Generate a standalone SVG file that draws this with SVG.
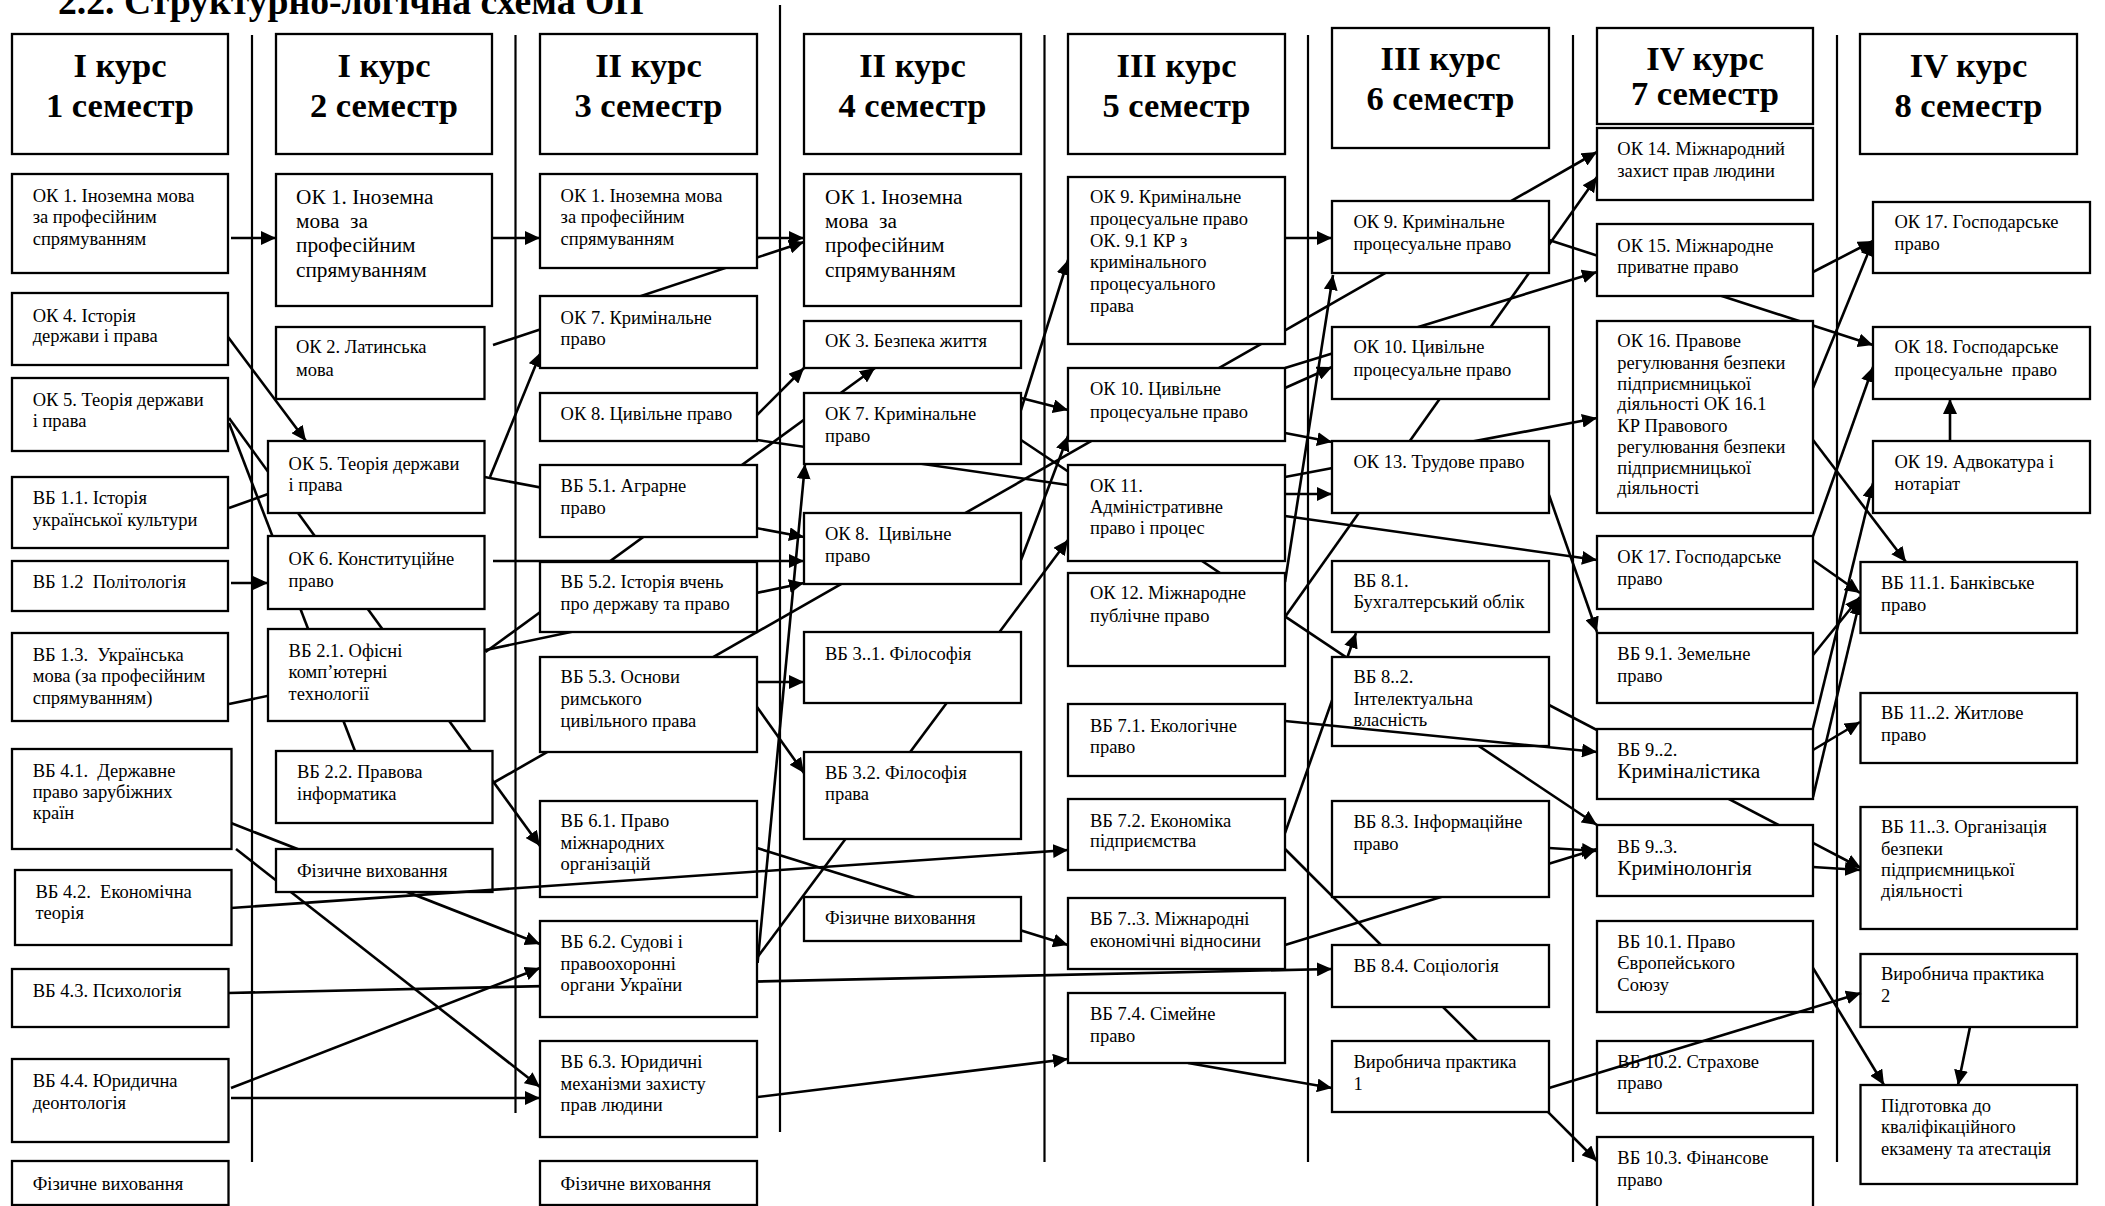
<svg xmlns="http://www.w3.org/2000/svg" width="2105" height="1206" viewBox="0 0 2105 1206">
<defs>
<marker id="ah" markerUnits="userSpaceOnUse" markerWidth="16" markerHeight="14" refX="15" refY="7" orient="auto">
<path d="M0,0 L15,7 L0,14 z" fill="#000"/>
</marker>
<style>
.box{fill:#fff;stroke:#000;stroke-width:2.3}
.t{font-family:"Liberation Serif","Times New Roman",serif;font-size:18.5px;fill:#000}
.tl{font-family:"Liberation Serif","Times New Roman",serif;font-size:21.3px;fill:#000}
.h{font-family:"Liberation Serif","Times New Roman",serif;font-size:34.5px;font-weight:bold;text-anchor:middle;fill:#000}
.ttl{font-family:"Liberation Serif","Times New Roman",serif;font-size:37.7px;font-weight:bold;fill:#000}
.c{stroke:#000;stroke-width:2.6;fill:none}
.a{marker-end:url(#ah)}
.sep{stroke:#000;stroke-width:2.2}
</style>
</defs>
<rect width="2105" height="1206" fill="#fff"/>
<text class="ttl" x="58" y="14">2.2. Структурно-логічна схема ОП</text>
<g id="separators">
<line class="sep" x1="252" y1="35" x2="252" y2="1162"/>
<line class="sep" x1="515.5" y1="35" x2="515.5" y2="1113"/>
<line class="sep" x1="780" y1="5" x2="780" y2="1132"/>
<line class="sep" x1="1044.5" y1="35" x2="1044.5" y2="1162"/>
<line class="sep" x1="1308" y1="35" x2="1308" y2="1162"/>
<line class="sep" x1="1573" y1="35" x2="1573" y2="1162"/>
<line class="sep" x1="1837" y1="35" x2="1837" y2="1162"/>
</g>
<g id="connectors">
<line class="c a" x1="231" y1="238" x2="276" y2="238"/>
<line class="c a" x1="493" y1="238" x2="540" y2="238"/>
<line class="c a" x1="757" y1="238" x2="804" y2="238"/>
<line class="c a" x1="228" y1="337" x2="306" y2="441"/>
<line class="c a" x1="229" y1="418" x2="540" y2="846"/>
<line class="c" x1="229" y1="423" x2="355" y2="751"/>
<line class="c" x1="229" y1="508" x2="268" y2="494"/>
<line class="c a" x1="231" y1="583" x2="268" y2="583"/>
<line class="c a" x1="229" y1="704" x2="804" y2="583"/>
<line class="c a" x1="231" y1="823" x2="540" y2="944"/>
<line class="c a" x1="236" y1="849" x2="540" y2="1087"/>
<line class="c a" x1="228" y1="993" x2="1332" y2="969"/>
<line class="c a" x1="231" y1="1088" x2="540" y2="968"/>
<line class="c a" x1="231" y1="1098" x2="540" y2="1098"/>
<line class="c a" x1="493" y1="345" x2="804" y2="242"/>
<line class="c a" x1="490" y1="477" x2="541" y2="352"/>
<line class="c a" x1="484.5" y1="477" x2="804" y2="537"/>
<line class="c a" x1="493" y1="561" x2="804" y2="561"/>
<line class="c a" x1="485.5" y1="652" x2="875" y2="368"/>
<line class="c a" x1="493" y1="783" x2="1597" y2="152"/>
<line class="c a" x1="757" y1="415" x2="804" y2="368"/>
<line class="c" x1="757" y1="440" x2="1068" y2="485"/>
<line class="c a" x1="757.6" y1="963" x2="805" y2="464"/>
<line class="c a" x1="757.6" y1="957" x2="1068" y2="540"/>
<line class="c a" x1="757" y1="682" x2="804" y2="682"/>
<line class="c a" x1="757" y1="707" x2="804" y2="773"/>
<line class="c a" x1="757" y1="848" x2="1068" y2="945"/>
<line class="c a" x1="757.6" y1="1097" x2="1068" y2="1059"/>
<line class="c a" x1="1021" y1="410" x2="1068" y2="260"/>
<line class="c a" x1="1021" y1="398" x2="1068" y2="410"/>
<line class="c a" x1="1021" y1="560" x2="1068" y2="436"/>
<line class="c a" x1="1021" y1="440" x2="1597" y2="825"/>
<line class="c a" x1="1285" y1="238" x2="1332" y2="238"/>
<line class="c a" x1="1285" y1="368" x2="1597" y2="272"/>
<line class="c a" x1="1285" y1="388" x2="1332" y2="367"/>
<line class="c a" x1="1285" y1="582" x2="1333" y2="275"/>
<line class="c a" x1="1285" y1="433" x2="1332" y2="442"/>
<line class="c a" x1="1285" y1="477" x2="1597" y2="418"/>
<line class="c a" x1="1285" y1="494" x2="1332" y2="494"/>
<line class="c a" x1="1285" y1="516" x2="1597" y2="560"/>
<line class="c a" x1="1285" y1="617" x2="1597" y2="177"/>
<line class="c a" x1="1285" y1="833" x2="1356" y2="633"/>
<line class="c a" x1="1285" y1="849" x2="1597" y2="1161"/>
<line class="c a" x1="1285" y1="945" x2="1597" y2="849"/>
<line class="c a" x1="1188" y1="1063" x2="1332" y2="1088"/>
<line class="c a" x1="1549" y1="240" x2="1873" y2="345"/>
<line class="c a" x1="1549" y1="495" x2="1597" y2="632"/>
<line class="c a" x1="1549" y1="848" x2="1597" y2="851"/>
<line class="c a" x1="1549" y1="705" x2="1861" y2="868"/>
<line class="c a" x1="1813" y1="272" x2="1873" y2="241"/>
<line class="c a" x1="1813" y1="388" x2="1873" y2="241"/>
<line class="c a" x1="1813" y1="536" x2="1873" y2="367"/>
<line class="c a" x1="1813" y1="440" x2="1906" y2="562"/>
<line class="c a" x1="1813" y1="560" x2="1860" y2="593"/>
<line class="c a" x1="1813" y1="655" x2="1860" y2="597"/>
<line class="c a" x1="1813" y1="750" x2="1860" y2="722"/>
<line class="c a" x1="1813" y1="728" x2="1873" y2="483"/>
<line class="c a" x1="1813" y1="797" x2="1860" y2="600"/>
<line class="c a" x1="1813" y1="867" x2="1860" y2="870"/>
<line class="c a" x1="1813" y1="968" x2="1884" y2="1085"/>
<line class="c a" x1="1970" y1="1027" x2="1958" y2="1085"/>
<line class="c a" x1="1950" y1="441" x2="1950" y2="399"/>
</g>
<g id="headers">
<g id="h1"><rect class="box" x="12" y="34" width="216" height="120"/><text class="h" x="120" y="77">І курс</text><text class="h" x="120" y="117">1 семестр</text></g>
<g id="h2"><rect class="box" x="276" y="34" width="216" height="120"/><text class="h" x="384" y="77">І курс</text><text class="h" x="384" y="117">2 семестр</text></g>
<g id="h3"><rect class="box" x="540" y="34" width="217" height="120"/><text class="h" x="648.5" y="77">ІІ курс</text><text class="h" x="648.5" y="117">3 семестр</text></g>
<g id="h4"><rect class="box" x="804" y="34" width="217" height="120"/><text class="h" x="912.5" y="77">ІІ курс</text><text class="h" x="912.5" y="117">4 семестр</text></g>
<g id="h5"><rect class="box" x="1068" y="34" width="217" height="120"/><text class="h" x="1176.5" y="77">ІІІ курс</text><text class="h" x="1176.5" y="117">5 семестр</text></g>
<g id="h6"><rect class="box" x="1332" y="28" width="217" height="120"/><text class="h" x="1440.5" y="70">ІІІ курс</text><text class="h" x="1440.5" y="110">6 семестр</text></g>
<g id="h7"><rect class="box" x="1597" y="28" width="216" height="96"/><text class="h" x="1705" y="70">IV курс</text><text class="h" x="1705" y="105">7 семестр</text></g>
<g id="h8"><rect class="box" x="1860" y="34" width="217" height="120"/><text class="h" x="1968.5" y="77">IV курс</text><text class="h" x="1968.5" y="117">8 семестр</text></g>
</g>
<g id="nodes">
<g id="ok1-s1"><rect class="box" x="12" y="174" width="216" height="99"/><text class="t"><tspan x="32.7" y="201.7">ОК 1. Іноземна мова</tspan><tspan x="32.7" y="223">за професійним</tspan><tspan x="32.7" y="245">спрямуванням</tspan></text></g>
<g id="ok4-s1"><rect class="box" x="12" y="293" width="216" height="72"/><text class="t"><tspan x="32.7" y="321.7">ОК 4. Історія</tspan><tspan x="32.7" y="342">держави і права</tspan></text></g>
<g id="ok5-s1"><rect class="box" x="12" y="378" width="216" height="73"/><text class="t"><tspan x="32.7" y="405.5">ОК 5. Теорія держави</tspan><tspan x="32.7" y="427">і права</tspan></text></g>
<g id="vb11-s1"><rect class="box" x="12" y="477" width="216" height="71"/><text class="t"><tspan x="32.7" y="504">ВБ 1.1. Історія</tspan><tspan x="32.7" y="526">української культури</tspan></text></g>
<g id="vb12-s1"><rect class="box" x="12" y="561" width="216" height="50"/><text class="t" x="32.7" y="588" xml:space="preserve">ВБ 1.2  Політологія</text></g>
<g id="vb13-s1"><rect class="box" x="12" y="633" width="216" height="88"/><text class="t" xml:space="preserve"><tspan x="32.7" y="661">ВБ 1.3.  Українська</tspan><tspan x="32.7" y="682">мова (за професійним</tspan><tspan x="32.7" y="703.5">спрямуванням)</tspan></text></g>
<g id="vb41-s1"><rect class="box" x="12" y="749" width="219.5" height="100"/><text class="t" xml:space="preserve"><tspan x="32.7" y="777">ВБ 4.1.  Державне</tspan><tspan x="32.7" y="798">право зарубіжних</tspan><tspan x="32.7" y="818.5">країн</tspan></text></g>
<g id="vb42-s1"><rect class="box" x="15" y="870" width="216.5" height="75"/><text class="t" xml:space="preserve"><tspan x="35.5" y="897.5">ВБ 4.2.  Економічна</tspan><tspan x="35.5" y="918.5">теорія</tspan></text></g>
<g id="vb43-s1"><rect class="box" x="12" y="969" width="216.5" height="58"/><text class="t" x="32.7" y="997">ВБ 4.3. Психологія</text></g>
<g id="vb44-s1"><rect class="box" x="12" y="1059" width="216.5" height="83"/><text class="t"><tspan x="32.7" y="1087">ВБ 4.4. Юридична</tspan><tspan x="32.7" y="1108.5">деонтологія</tspan></text></g>
<g id="pe-s1"><rect class="box" x="12" y="1161" width="216.5" height="44"/><text class="t" x="32.7" y="1190">Фізичне виховання</text></g>

<g id="ok1-s2"><rect class="box" x="276" y="174" width="216" height="132"/><text class="tl" xml:space="preserve"><tspan x="296" y="204">ОК 1. Іноземна</tspan><tspan x="296" y="228">мова  за</tspan><tspan x="296" y="252">професійним</tspan><tspan x="296" y="276.7">спрямуванням</tspan></text></g>
<g id="ok2-s2"><rect class="box" x="276" y="327" width="208.5" height="72"/><text class="t"><tspan x="296" y="353">ОК 2. Латинська</tspan><tspan x="296" y="376">мова</tspan></text></g>
<g id="ok5-s2"><rect class="box" x="268" y="441" width="216.5" height="72"/><text class="t"><tspan x="288.6" y="470">ОК 5. Теорія держави</tspan><tspan x="288.6" y="491">і права</tspan></text></g>
<g id="ok6-s2"><rect class="box" x="268" y="536" width="216.5" height="73"/><text class="t"><tspan x="288.6" y="565">ОК 6. Конституційне</tspan><tspan x="288.6" y="587">право</tspan></text></g>
<g id="vb21-s2"><rect class="box" x="268" y="629" width="216.5" height="92"/><text class="t"><tspan x="288.6" y="657">ВБ 2.1. Офісні</tspan><tspan x="288.6" y="678">комп’ютерні</tspan><tspan x="288.6" y="700">технології</tspan></text></g>
<g id="vb22-s2"><rect class="box" x="276" y="751" width="216.5" height="72"/><text class="t"><tspan x="297" y="778">ВБ 2.2. Правова</tspan><tspan x="297" y="800">інформатика</tspan></text></g>
<g id="pe-s2"><rect class="box" x="276" y="849" width="216.5" height="43"/><text class="t" x="297" y="877">Фізичне виховання</text></g>

<g id="ok1-s3"><rect class="box" x="540" y="174" width="217" height="94"/><text class="t"><tspan x="560.6" y="201.7">ОК 1. Іноземна мова</tspan><tspan x="560.6" y="223">за професійним</tspan><tspan x="560.6" y="245">спрямуванням</tspan></text></g>
<g id="ok7-s3"><rect class="box" x="540" y="296" width="217" height="72"/><text class="t"><tspan x="560.6" y="323.5">ОК 7. Кримінальне</tspan><tspan x="560.6" y="345">право</tspan></text></g>
<g id="ok8-s3"><rect class="box" x="540" y="393" width="217" height="48"/><text class="t" x="560.6" y="420">ОК 8. Цивільне право</text></g>
<g id="vb51-s3"><rect class="box" x="540" y="465" width="217" height="72"/><text class="t"><tspan x="560.6" y="491.7">ВБ 5.1. Аграрне</tspan><tspan x="560.6" y="514">право</tspan></text></g>
<g id="vb52-s3"><rect class="box" x="540" y="562" width="217" height="70"/><text class="t"><tspan x="560.6" y="588">ВБ 5.2. Історія вчень</tspan><tspan x="560.6" y="610">про державу та право</tspan></text></g>
<g id="vb53-s3"><rect class="box" x="540" y="657" width="217" height="95"/><text class="t"><tspan x="560.6" y="683">ВБ 5.3. Основи</tspan><tspan x="560.6" y="705">римського</tspan><tspan x="560.6" y="727">цивільного права</tspan></text></g>
<g id="vb61-s3"><rect class="box" x="540" y="801" width="217" height="96"/><text class="t"><tspan x="560.6" y="827">ВБ 6.1. Право</tspan><tspan x="560.6" y="849">міжнародних</tspan><tspan x="560.6" y="870">організацій</tspan></text></g>
<g id="vb62-s3"><rect class="box" x="540" y="921" width="217" height="96"/><text class="t"><tspan x="560.6" y="948">ВБ 6.2. Судові і</tspan><tspan x="560.6" y="970">правоохоронні</tspan><tspan x="560.6" y="991">органи України</tspan></text></g>
<g id="vb63-s3"><rect class="box" x="540" y="1041" width="217" height="96"/><text class="t"><tspan x="560.6" y="1068">ВБ 6.3. Юридичні</tspan><tspan x="560.6" y="1090">механізми захисту</tspan><tspan x="560.6" y="1111">прав людини</tspan></text></g>
<g id="pe-s3"><rect class="box" x="540" y="1161" width="217" height="44"/><text class="t" x="560.6" y="1190">Фізичне виховання</text></g>

<g id="ok1-s4"><rect class="box" x="804" y="174" width="217" height="132"/><text class="tl" xml:space="preserve"><tspan x="825" y="204">ОК 1. Іноземна</tspan><tspan x="825" y="228">мова  за</tspan><tspan x="825" y="252">професійним</tspan><tspan x="825" y="276.7">спрямуванням</tspan></text></g>
<g id="ok3-s4"><rect class="box" x="804" y="321" width="217" height="47"/><text class="t" x="825" y="347">ОК 3. Безпека життя</text></g>
<g id="ok7-s4"><rect class="box" x="804" y="393" width="217" height="71"/><text class="t"><tspan x="825" y="419.5">ОК 7. Кримінальне</tspan><tspan x="825" y="442">право</tspan></text></g>
<g id="ok8-s4"><rect class="box" x="804" y="513" width="217" height="71"/><text class="t" xml:space="preserve"><tspan x="825" y="539.5">ОК 8.  Цивільне</tspan><tspan x="825" y="562">право</tspan></text></g>
<g id="vb31-s4"><rect class="box" x="804" y="632" width="217" height="71"/><text class="t" x="825" y="660">ВБ 3..1. Філософія</text></g>
<g id="vb32-s4"><rect class="box" x="804" y="752" width="217" height="87"/><text class="t"><tspan x="825" y="778.5">ВБ 3.2. Філософія</tspan><tspan x="825" y="800">права</tspan></text></g>
<g id="pe-s4"><rect class="box" x="804" y="897" width="217" height="44"/><text class="t" x="825" y="924">Фізичне виховання</text></g>

<g id="ok9-s5"><rect class="box" x="1068" y="177" width="217" height="167"/><text class="t"><tspan x="1090" y="203.3">ОК 9. Кримінальне</tspan><tspan x="1090" y="225">процесуальне право</tspan><tspan x="1090" y="246.7">ОК. 9.1 КР з</tspan><tspan x="1090" y="268.3">кримінального</tspan><tspan x="1090" y="290">процесуального</tspan><tspan x="1090" y="311.7">права</tspan></text></g>
<g id="ok10-s5"><rect class="box" x="1068" y="368" width="217" height="73"/><text class="t"><tspan x="1090" y="395">ОК 10. Цивільне</tspan><tspan x="1090" y="418">процесуальне право</tspan></text></g>
<g id="ok11-s5"><rect class="box" x="1068" y="465" width="217" height="96"/><text class="t"><tspan x="1090" y="491.7">ОК 11.</tspan><tspan x="1090" y="513.3">Адміністративне</tspan><tspan x="1090" y="534.3">право і процес</tspan></text></g>
<g id="ok12-s5"><rect class="box" x="1068" y="573" width="217" height="93"/><text class="t"><tspan x="1090" y="599.3">ОК 12. Міжнародне</tspan><tspan x="1090" y="621.7">публічне право</tspan></text></g>
<g id="vb71-s5"><rect class="box" x="1068" y="704" width="217" height="72"/><text class="t"><tspan x="1090" y="731.7">ВБ 7.1. Екологічне</tspan><tspan x="1090" y="753.3">право</tspan></text></g>
<g id="vb72-s5"><rect class="box" x="1068" y="799" width="217" height="71"/><text class="t"><tspan x="1090" y="826.7">ВБ 7.2. Економіка</tspan><tspan x="1090" y="847.3">підприємства</tspan></text></g>
<g id="vb73-s5"><rect class="box" x="1068" y="898" width="217" height="71"/><text class="t"><tspan x="1090" y="925">ВБ 7..3. Міжнародні</tspan><tspan x="1090" y="946.7">економічні відносини</tspan></text></g>
<g id="vb74-s5"><rect class="box" x="1068" y="993" width="217" height="70"/><text class="t"><tspan x="1090" y="1020">ВБ 7.4. Сімейне</tspan><tspan x="1090" y="1041.7">право</tspan></text></g>

<g id="ok9-s6"><rect class="box" x="1332" y="201" width="217" height="72"/><text class="t"><tspan x="1353.4" y="228.3">ОК 9. Кримінальне</tspan><tspan x="1353.4" y="250">процесуальне право</tspan></text></g>
<g id="ok10-s6"><rect class="box" x="1332" y="327" width="217" height="72"/><text class="t"><tspan x="1353.4" y="353.3">ОК 10. Цивільне</tspan><tspan x="1353.4" y="376">процесуальне право</tspan></text></g>
<g id="ok13-s6"><rect class="box" x="1332" y="441" width="217" height="72"/><text class="t" x="1353.4" y="468.3">ОК 13. Трудове право</text></g>
<g id="vb81-s6"><rect class="box" x="1332" y="561" width="217" height="71"/><text class="t"><tspan x="1353.4" y="586.7">ВБ 8.1.</tspan><tspan x="1353.4" y="608.3">Бухгалтерський облік</tspan></text></g>
<g id="vb82-s6"><rect class="box" x="1332" y="657" width="217" height="89"/><text class="t"><tspan x="1353.4" y="683.3">ВБ 8..2.</tspan><tspan x="1353.4" y="705">Інтелектуальна</tspan><tspan x="1353.4" y="726">власність</tspan></text></g>
<g id="vb83-s6"><rect class="box" x="1332" y="801" width="217" height="96"/><text class="t"><tspan x="1353.4" y="828.3">ВБ 8.3. Інформаційне</tspan><tspan x="1353.4" y="850">право</tspan></text></g>
<g id="vb84-s6"><rect class="box" x="1332" y="945" width="217" height="62"/><text class="t" x="1353.4" y="971.7">ВБ 8.4. Соціологія</text></g>
<g id="vp1-s6"><rect class="box" x="1332" y="1041" width="217" height="71"/><text class="t"><tspan x="1353.4" y="1068.3">Виробнича практика</tspan><tspan x="1353.4" y="1090">1</tspan></text></g>

<g id="ok14-s7"><rect class="box" x="1597" y="128" width="216" height="72"/><text class="t"><tspan x="1617.3" y="155">ОК 14. Міжнародний</tspan><tspan x="1617.3" y="176.7">захист прав людини</tspan></text></g>
<g id="ok15-s7"><rect class="box" x="1597" y="224" width="216" height="72"/><text class="t"><tspan x="1617.3" y="251.7">ОК 15. Міжнародне</tspan><tspan x="1617.3" y="273.3">приватне право</tspan></text></g>
<g id="ok16-s7"><rect class="box" x="1597" y="321" width="216" height="192"/><text class="t"><tspan x="1617.3" y="346.7">ОК 16. Правове</tspan><tspan x="1617.3" y="368.5">регулювання безпеки</tspan><tspan x="1617.3" y="389.5">підприємницької</tspan><tspan x="1617.3" y="410">діяльності ОК 16.1</tspan><tspan x="1617.3" y="431.7">КР Правового</tspan><tspan x="1617.3" y="453.3">регулювання безпеки</tspan><tspan x="1617.3" y="474">підприємницької</tspan><tspan x="1617.3" y="494.3">діяльності</tspan></text></g>
<g id="ok17-s7"><rect class="box" x="1597" y="536" width="216" height="73"/><text class="t"><tspan x="1617.3" y="563.3">ОК 17. Господарське</tspan><tspan x="1617.3" y="585">право</tspan></text></g>
<g id="vb91-s7"><rect class="box" x="1597" y="633" width="216" height="70"/><text class="t"><tspan x="1617.3" y="660">ВБ 9.1. Земельне</tspan><tspan x="1617.3" y="681.7">право</tspan></text></g>
<g id="vb92-s7"><rect class="box" x="1597" y="729" width="216" height="70"/><text class="t" x="1617.3" y="756">ВБ 9..2.</text><text class="tl" x="1617.3" y="777.7">Криміналістика</text></g>
<g id="vb93-s7"><rect class="box" x="1597" y="825" width="216" height="71"/><text class="t" x="1617.3" y="853.3">ВБ 9..3.</text><text class="tl" x="1617.3" y="875">Кримінолонгія</text></g>
<g id="vb101-s7"><rect class="box" x="1597" y="921" width="216" height="91"/><text class="t"><tspan x="1617.3" y="948.3">ВБ 10.1. Право</tspan><tspan x="1617.3" y="969.3">Європейського</tspan><tspan x="1617.3" y="991">Союзу</tspan></text></g>
<g id="vb102-s7"><rect class="box" x="1597" y="1041" width="216" height="72"/><text class="t"><tspan x="1617.3" y="1068.3">ВБ 10.2. Страхове</tspan><tspan x="1617.3" y="1089.3">право</tspan></text></g>
<g id="vb103-s7"><rect class="box" x="1597" y="1137" width="216" height="72"/><text class="t"><tspan x="1617.3" y="1164">ВБ 10.3. Фінансове</tspan><tspan x="1617.3" y="1185.7">право</tspan></text></g>

<g id="ok17-s8"><rect class="box" x="1873" y="202" width="217" height="71"/><text class="t"><tspan x="1894.5" y="228.3">ОК 17. Господарське</tspan><tspan x="1894.5" y="250">право</tspan></text></g>
<g id="ok18-s8"><rect class="box" x="1873" y="327" width="217" height="72"/><text class="t" xml:space="preserve"><tspan x="1894.5" y="353.3">ОК 18. Господарське</tspan><tspan x="1894.5" y="376">процесуальне  право</tspan></text></g>
<g id="ok19-s8"><rect class="box" x="1873" y="441" width="217" height="72"/><text class="t"><tspan x="1894.5" y="468.3">ОК 19. Адвокатура і</tspan><tspan x="1894.5" y="490">нотаріат</tspan></text></g>
<g id="vb111-s8"><rect class="box" x="1860.5" y="562" width="216.5" height="71"/><text class="t"><tspan x="1881" y="589.3">ВБ 11.1. Банківське</tspan><tspan x="1881" y="610.7">право</tspan></text></g>
<g id="vb112-s8"><rect class="box" x="1860.5" y="693" width="216.5" height="70"/><text class="t"><tspan x="1881" y="719.3">ВБ 11..2. Житлове</tspan><tspan x="1881" y="740.7">право</tspan></text></g>
<g id="vb113-s8"><rect class="box" x="1860.5" y="807" width="216.5" height="122"/><text class="t"><tspan x="1881" y="833.3">ВБ 11..3. Організація</tspan><tspan x="1881" y="855">безпеки</tspan><tspan x="1881" y="876">підприємницької</tspan><tspan x="1881" y="897.3">діяльності</tspan></text></g>
<g id="vp2-s8"><rect class="box" x="1860.5" y="954" width="216.5" height="73"/><text class="t"><tspan x="1881" y="980">Виробнича практика</tspan><tspan x="1881" y="1001.7">2</tspan></text></g>
<g id="exam-s8"><rect class="box" x="1860.5" y="1085" width="216.5" height="99"/><text class="t"><tspan x="1881" y="1111.7">Підготовка до</tspan><tspan x="1881" y="1133.3">кваліфікаційного</tspan><tspan x="1881" y="1155">екзамену та атестація</tspan></text></g>
</g>
<g id="connectors-over">
<line class="c a" x1="231" y1="908" x2="1068" y2="850"/>
<line class="c a" x1="1285" y1="721" x2="1597" y2="752"/>
<line class="c a" x1="1549" y1="1088" x2="1861" y2="993"/>
</g>
</svg>
